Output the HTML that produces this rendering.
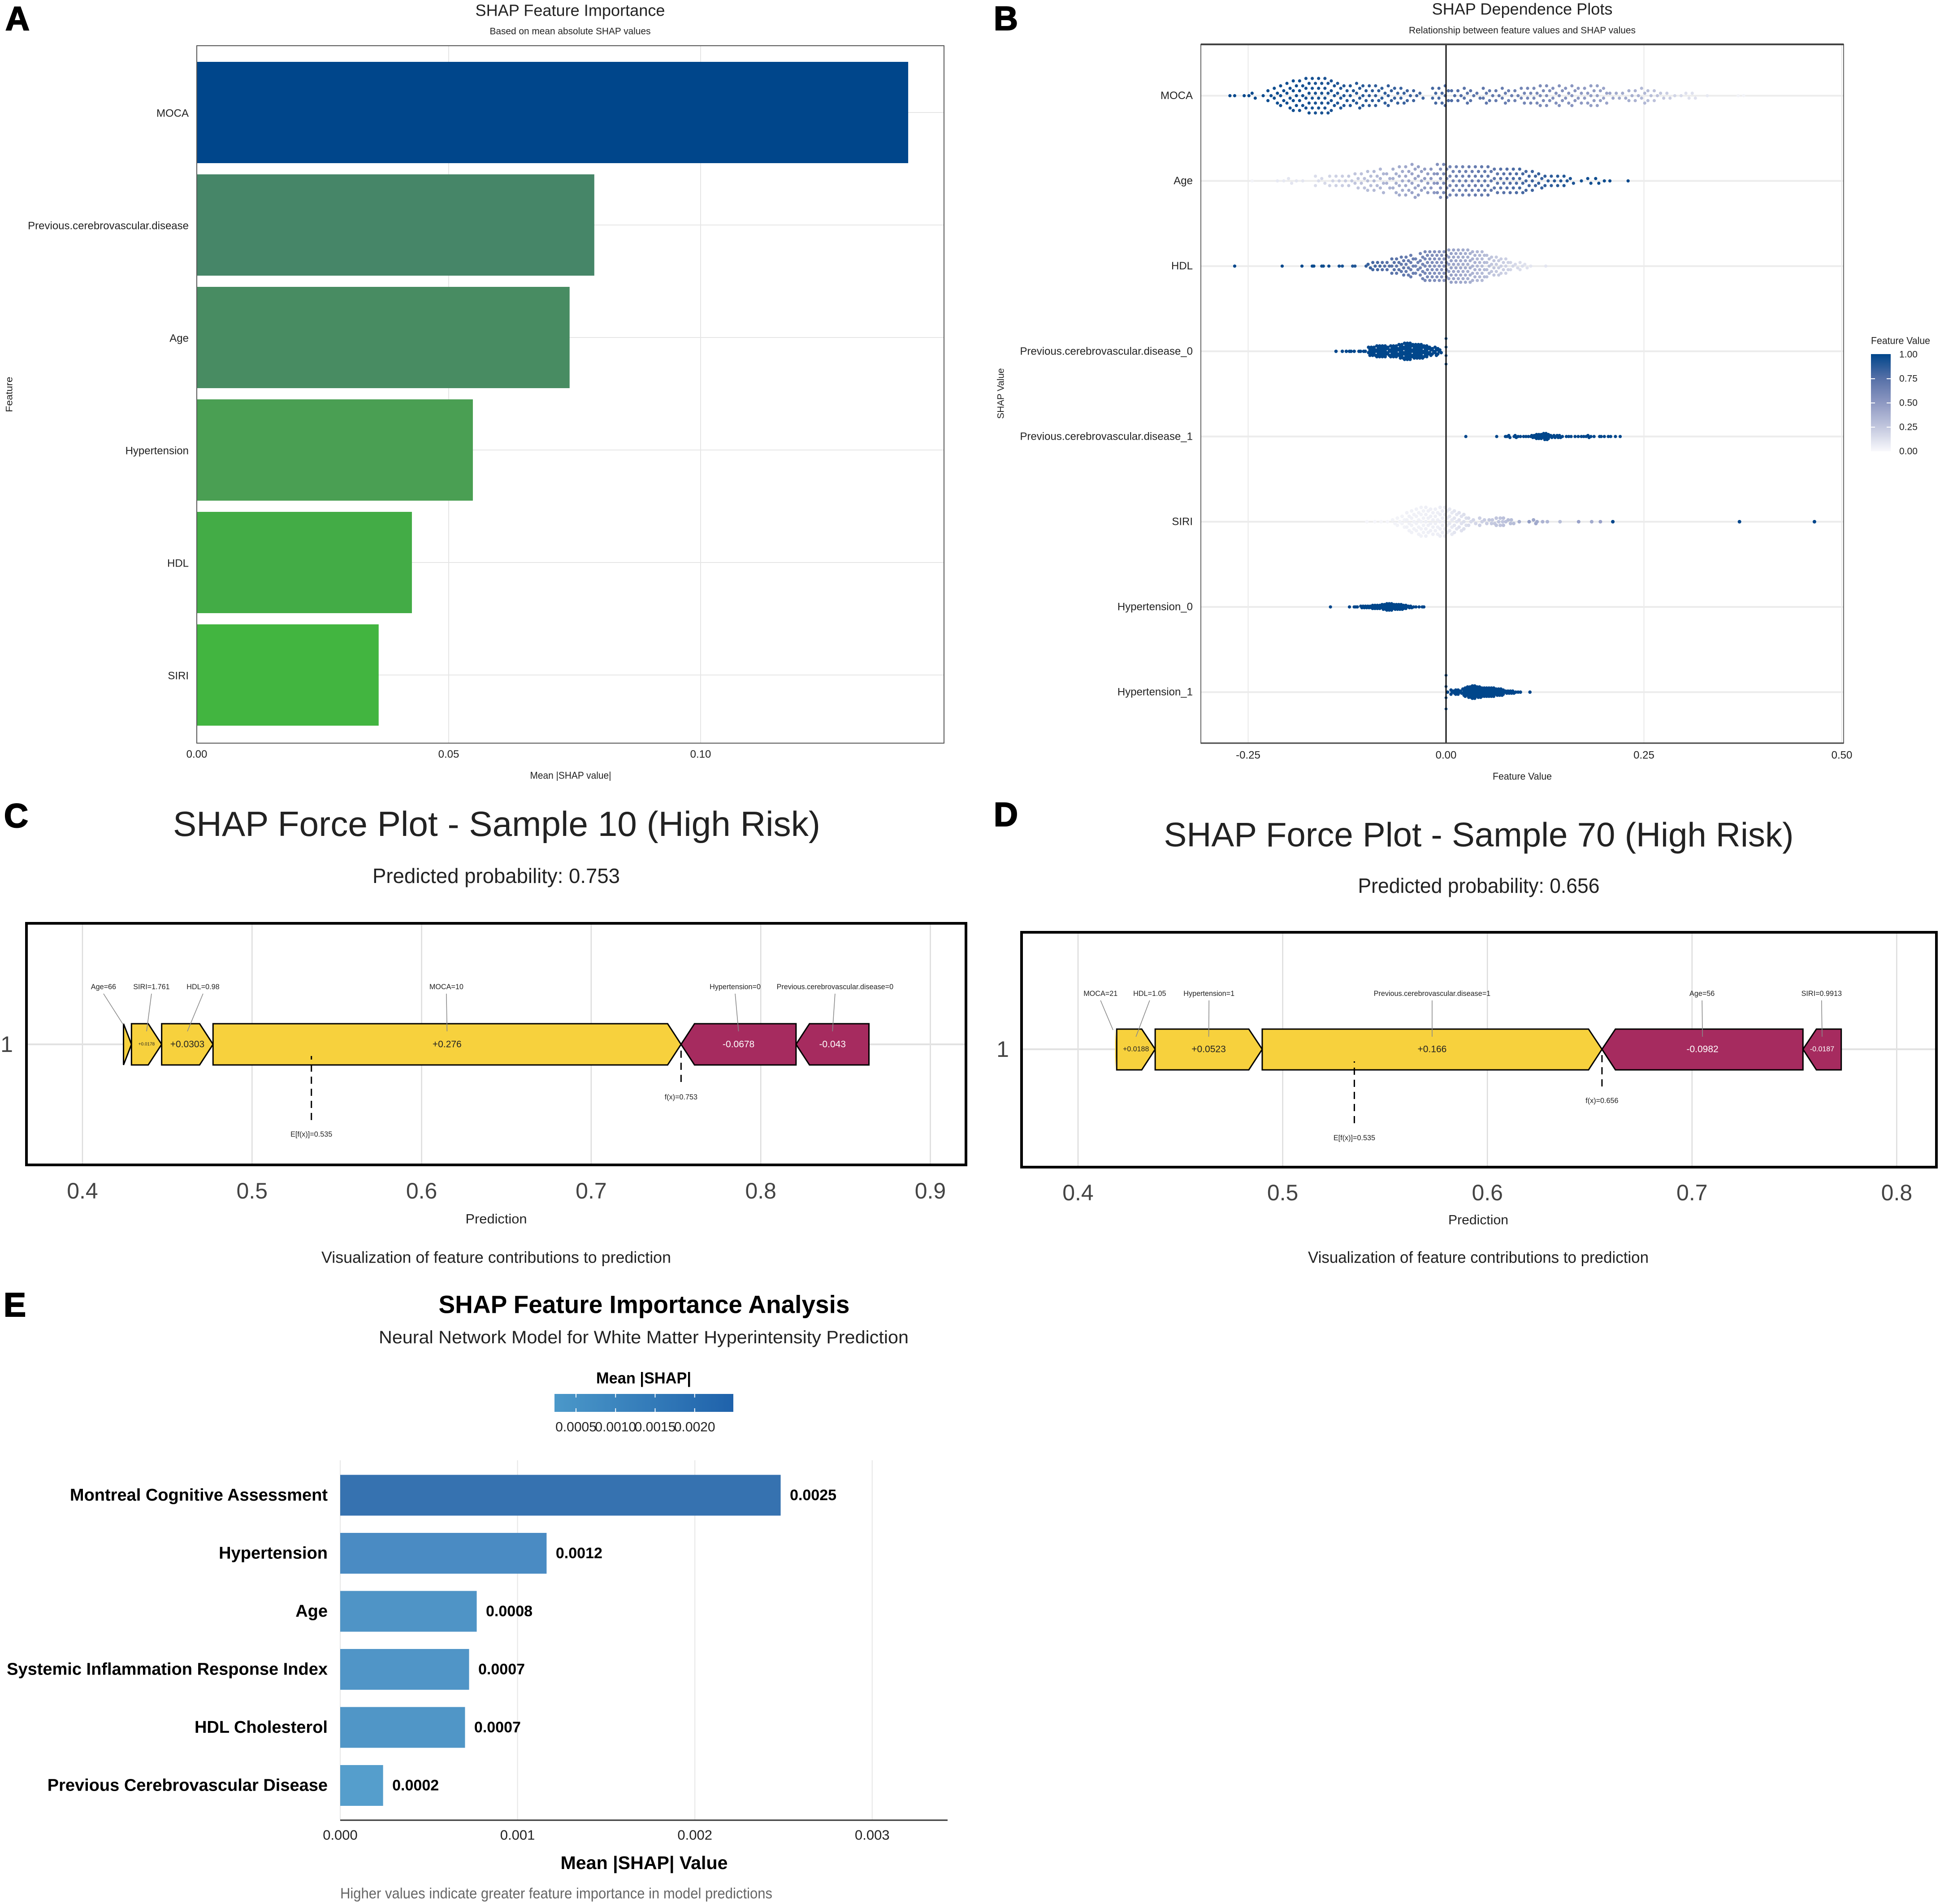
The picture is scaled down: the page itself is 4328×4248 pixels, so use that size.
<!DOCTYPE html>
<html lang="en">
<head>
<meta charset="utf-8">
<title>SHAP analysis figure</title>
<style>
html,body{margin:0;padding:0;background:#fff;}
svg{display:block;font-family:"Liberation Sans",Arial,sans-serif;}
text{dominant-baseline:central;}
</style>
</head>
<body>
<svg id="figure" xmlns="http://www.w3.org/2000/svg" width="4328" height="4248" viewBox="0 0 4328 4248">
<defs>
<linearGradient id="featureGrad" x1="0" y1="0" x2="0" y2="1">
<stop offset="0" stop-color="#00468b"/><stop offset=".25" stop-color="#5670a7"/><stop offset=".5" stop-color="#8d98c2"/><stop offset=".75" stop-color="#c2c7de"/><stop offset="1" stop-color="#f9f9fc"/>
</linearGradient>
<linearGradient id="shapGrad" x1="0" y1="0" x2="1" y2="0">
<stop offset="0" stop-color="#4b98c9"/><stop offset="1" stop-color="#1f62ab"/>
</linearGradient>
</defs>
<rect width="4328" height="4248" fill="#fff"/>

<text x="39" y="41" font-size="75" font-weight="700" text-anchor="middle" stroke="#000" stroke-width="2">A</text>
<text x="2244" y="41" font-size="75" font-weight="700" text-anchor="middle" stroke="#000" stroke-width="2">B</text>
<text x="36" y="1820" font-size="75" font-weight="700" text-anchor="middle" stroke="#000" stroke-width="2">C</text>
<text x="2244" y="1817" font-size="75" font-weight="700" text-anchor="middle" stroke="#000" stroke-width="2">D</text>
<text x="33" y="2911" font-size="75" font-weight="700" text-anchor="middle" stroke="#000" stroke-width="2">E</text>

<g id="panelA">
<text x="1272" y="23" font-size="36" fill="#222" text-anchor="middle" textLength="423" lengthAdjust="spacingAndGlyphs">SHAP Feature Importance</text>
<text x="1272" y="70" font-size="21" fill="#222" text-anchor="middle" textLength="359" lengthAdjust="spacingAndGlyphs">Based on mean absolute SHAP values</text>
<text x="1273" y="1730" font-size="22" fill="#222" text-anchor="middle" textLength="181" lengthAdjust="spacingAndGlyphs">Mean |SHAP value|</text>
<text x="21" y="880" font-size="21" fill="#222" text-anchor="middle" transform="rotate(-90 21 880)" textLength="79" lengthAdjust="spacingAndGlyphs">Feature</text>
</g>

<g id="panelB">
<text x="3396" y="20" font-size="36" fill="#222" text-anchor="middle" textLength="403" lengthAdjust="spacingAndGlyphs">SHAP Dependence Plots</text>
<text x="3396" y="68" font-size="21" fill="#222" text-anchor="middle" textLength="506" lengthAdjust="spacingAndGlyphs">Relationship between feature values and SHAP values</text>
<text x="3396" y="1732" font-size="22" fill="#222" text-anchor="middle" textLength="132" lengthAdjust="spacingAndGlyphs">Feature Value</text>
<text x="2233" y="878" font-size="21" fill="#222" text-anchor="middle" transform="rotate(-90 2233 878)" textLength="113" lengthAdjust="spacingAndGlyphs">SHAP Value</text>
<text x="4174" y="760" font-size="22" fill="#222" textLength="132" lengthAdjust="spacingAndGlyphs">Feature Value</text>
<rect x="4174" y="790" width="44" height="217" fill="url(#featureGrad)"/>
</g>

<g id="panelC">
<text x="1108" y="1838" font-size="78" fill="#222" text-anchor="middle" textLength="1444" lengthAdjust="spacingAndGlyphs">SHAP Force Plot - Sample 10 (High Risk)</text>
<text x="1107" y="1954" font-size="46" fill="#222" text-anchor="middle" textLength="552" lengthAdjust="spacingAndGlyphs">Predicted probability: 0.753</text>
<text x="1107" y="2720" font-size="30" fill="#222" text-anchor="middle" textLength="137" lengthAdjust="spacingAndGlyphs">Prediction</text>
<text x="1107" y="2805" font-size="36" fill="#222" text-anchor="middle" textLength="780" lengthAdjust="spacingAndGlyphs">Visualization of feature contributions to prediction</text>
</g>

<g id="panelD">
<text x="3299" y="1863" font-size="76" fill="#222" text-anchor="middle" textLength="1405" lengthAdjust="spacingAndGlyphs">SHAP Force Plot - Sample 70 (High Risk)</text>
<text x="3299" y="1976" font-size="46" fill="#222" text-anchor="middle" textLength="539" lengthAdjust="spacingAndGlyphs">Predicted probability: 0.656</text>
<text x="3298" y="2722" font-size="30" fill="#222" text-anchor="middle" textLength="134" lengthAdjust="spacingAndGlyphs">Prediction</text>
<text x="3298" y="2805" font-size="36" fill="#222" text-anchor="middle" textLength="760" lengthAdjust="spacingAndGlyphs">Visualization of feature contributions to prediction</text>
</g>

<g id="panelE">
<text x="1437" y="2910" font-size="56" font-weight="700" fill="#000" text-anchor="middle" textLength="917" lengthAdjust="spacingAndGlyphs">SHAP Feature Importance Analysis</text>
<text x="1436" y="2984" font-size="40" fill="#222" text-anchor="middle" textLength="1182" lengthAdjust="spacingAndGlyphs">Neural Network Model for White Matter Hyperintensity Prediction</text>
<text x="1436" y="3075" font-size="35" font-weight="700" fill="#000" text-anchor="middle" textLength="212" lengthAdjust="spacingAndGlyphs">Mean |SHAP|</text>
<rect x="1237" y="3110" width="399" height="40" fill="url(#shapGrad)"/>
<text x="1437" y="4156" font-size="41" font-weight="700" fill="#000" text-anchor="middle" textLength="373" lengthAdjust="spacingAndGlyphs">Mean |SHAP| Value</text>
<text x="759" y="4224" font-size="33" fill="#666" textLength="964" lengthAdjust="spacingAndGlyphs">Higher values indicate greater feature importance in model predictions</text>
</g>
</svg>

<script>
/* ---------- Panel A data ---------- */
const aCategories = ['MOCA','Previous.cerebrovascular.disease','Age','Hypertension','HDL','SIRI'];
const aValues = [0.1412,0.0789,0.0740,0.0548,0.0427,0.0361];
const aColors = ['#00468b','#468668','#488c62','#4a9f53','#43ac46','#42b540'];
const aTicks = [0,0.05,0.10];
const aTickLabels = ['0.00','0.05','0.10'];

/* ---------- Panel B data ---------- */
const bTicks = [-0.25,0,0.25,0.5];
const bTickLabels = ['-0.25','0.00','0.25','0.50'];
const bCategories = ['MOCA','Age','HDL','Previous.cerebrovascular.disease_0','Previous.cerebrovascular.disease_1','SIRI','Hypertension_0','Hypertension_1'];
const legendTicks = [1,0.75,0.5,0.25,0];
const legendLabels = ['1.00','0.75','0.50','0.25','0.00'];

const mocaShap = [-.273,-.267,-.255,-.249,-.243,-.231,-.223,-.215,-.207,-.199,-.191,-.183,-.175,-.167,-.159,-.151,-.143,-.135,-.127,-.119,-.111,-.103,-.095,-.087,-.079,-.071,-.063,-.055,-.047,-.039,-.031,-.015,-.007,.001,.009,.017,.025,.033,.041,.049,.057,.065,.073,.081,.089,.097,.105,.113,.121,.129,.137,.145,.153,.161,.169,.177,.185,.193,.201,.209,.217,.225,.233,.241,.249,.257,.265,.273,.281,.289,.297,.305,.313,.33,.369,.376];
const mocaCount = [1,1,1,1,2,1,3,4,5,6,7,7,8,8,8,8,7,6,5,5,6,5,5,5,4,5,4,4,3,3,2,4,4,5,3,3,4,3,2,4,3,3,4,3,3,4,4,4,5,5,4,5,4,5,4,4,5,5,4,2,2,2,3,3,4,3,3,2,2,1,1,2,2,1,1,1];
const mocaFeature = [.98,.98,.98,.97,.97,.97,.96,.96,.95,.95,.95,.94,.94,.93,.93,.92,.92,.91,.9,.9,.89,.88,.87,.86,.86,.85,.84,.83,.82,.82,.81,.8,.79,.78,.77,.76,.74,.73,.72,.71,.7,.68,.67,.65,.64,.62,.61,.6,.58,.57,.55,.54,.53,.52,.5,.49,.47,.46,.44,.43,.41,.4,.38,.36,.33,.3,.28,.25,.22,.18,.15,.12,.12,.08,.03,.03];

const ageShap = [-.245,-.213,-.205,-.197,-.189,-.181,-.163,-.155,-.145,-.137,-.129,-.121,-.113,-.105,-.097,-.089,-.081,-.073,-.065,-.057,-.049,-.041,-.033,-.025,-.017,-.009,-.001,.007,.015,.023,.031,.039,.047,.055,.063,.071,.079,.087,.095,.103,.111,.119,.127,.135,.143,.151,.159,.171,.181,.191,.2,.207,.23];
const ageCount = [1,1,1,2,1,1,3,2,3,3,3,3,4,4,5,5,6,4,6,7,7,8,7,6,6,8,8,7,7,7,7,7,7,7,6,6,6,6,6,5,5,4,3,3,3,3,2,1,2,2,1,1,1];
const ageFeature = [.03,.08,.08,.1,.1,.1,.14,.16,.18,.2,.22,.24,.26,.28,.3,.32,.34,.36,.38,.4,.42,.44,.46,.48,.5,.55,.58,.62,.64,.65,.66,.68,.69,.7,.72,.74,.76,.78,.8,.8,.82,.84,.86,.87,.88,.9,.92,.94,.95,.96,.97,.98,1];

const hdlShap = [-.267,-.207,-.182,-.169,-.167,-.157,-.155,-.148,-.135,-.131,-.118,-.115,-.101,-.097,-.091,-.085,-.079,-.073,-.067,-.061,-.055,-.049,-.043,-.037,-.031,-.025,-.019,-.013,-.007,-.001,.005,.011,.017,.023,.029,.035,.041,.047,.053,.059,.065,.071,.077,.083,.089,.095,.101,.107,.126];
const hdlCount = [1,1,1,1,1,1,1,1,1,1,1,1,1,2,3,3,3,3,5,5,6,6,7,5,8,9,9,9,9,9,10,10,10,10,10,9,9,9,7,6,6,5,5,3,2,3,2,1,1];
const hdlFeature = [1,.98,.98,.97,.97,.96,.96,.95,.93,.93,.9,.9,.85,.84,.8,.8,.76,.75,.74,.72,.7,.68,.66,.64,.62,.6,.58,.56,.54,.5,.46,.44,.42,.4,.38,.36,.34,.32,.3,.26,.24,.22,.2,.18,.16,.14,.12,.1,.1];

const prev0Shap = [-.139,-.131,-.126,-.122,-.12,-.116,-.11,-.108,-.104,-.102,-.097,-.0935,-.09,-.0865,-.083,-.0795,-.076,-.0725,-.069,-.0655,-.062,-.0585,-.055,-.0515,-.048,-.0445,-.041,-.0375,-.034,-.0305,-.027,-.0235,-.02,-.0165,-.013,-.0095,-.007];
const prev0Count = [1,1,1,1,1,1,1,1,1,1,4,4,4,5,5,5,5,4,5,5,5,6,6,7,7,7,6,6,6,6,5,5,4,3,4,3,2];
const prev0Ties = 4;

const prev1Shap = [.025,.064,.075,.077,.08,.086,.088,.091,.094,.098,.101,.104,.107,.109,.112,.115,.118,.121,.124,.127,.13,.133,.137,.141,.144,.147,.152,.155,.158,.163,.167,.171,.174,.177,.18,.183,.187,.194,.196,.2,.205,.208,.214,.22];
const prev1Count = [1,1,1,1,2,1,2,1,1,1,1,1,1,2,2,3,3,3,4,4,3,2,2,2,2,1,1,1,1,1,1,1,1,1,2,1,1,1,1,1,1,1,1,1];

const siriShap = [-.1,-.09,-.082,-.074,-.066,-.06,-.054,-.048,-.042,-.036,-.03,-.024,-.018,-.012,-.006,0,.006,.012,.018,.024,.03,.036,.044,.05,.056,.06,.065,.07,.074,.08,.084,.0925,.105,.112,.115,.122,.128,.144,.1675,.184,.195,.2107,.3707,.4654];
const siriCount = [1,1,1,1,2,3,4,6,7,8,9,9,8,8,9,9,8,7,6,5,3,2,3,2,2,2,3,3,3,2,2,1,1,2,1,1,1,1,1,1,1,1,1,1];
const siriFeature = [.02,.02,.02,.02,.03,.03,.03,.04,.04,.04,.04,.05,.05,.05,.06,.06,.08,.1,.12,.13,.15,.17,.2,.22,.24,.24,.26,.26,.28,.3,.3,.38,.48,.42,.4,.36,.34,.3,.45,.4,.45,1,1,1];

const hyp0Shap = [-.146,-.122,-.116,-.114,-.112,-.107,-.104,-.101,-.098,-.095,-.092,-.089,-.086,-.083,-.08,-.077,-.074,-.071,-.068,-.065,-.062,-.059,-.056,-.053,-.05,-.047,-.044,-.041,-.038,-.034,-.03,-.028];
const hyp0Count = [1,1,1,1,1,2,2,2,2,2,3,3,3,3,4,4,5,5,5,4,4,4,4,3,3,2,2,1,1,1,1,1];

const hyp1Shap = [.002,.007,.01,.013,.016,.019,.022,.025,.028,.031,.034,.037,.04,.043,.046,.049,.052,.055,.058,.061,.064,.067,.07,.073,.076,.079,.082,.085,.088,.091,.094,.106];
const hyp1Count = [1,3,2,3,3,2,4,5,6,6,7,7,6,6,5,5,5,5,5,5,4,4,4,3,2,2,2,2,1,1,1,1];
const hyp1Ties = 4;
const binaryFeature = 1;

/* ---------- Panel C data ---------- */
const cTicks = [0.4,0.5,0.6,0.7,0.8,0.9];
const cTickLabels = ['0.4','0.5','0.6','0.7','0.8','0.9'];
const cPosNames = ['Age=66','SIRI=1.761','HDL=0.98','MOCA=10'];
const cPosValues = [0.0047,0.0178,0.0303,0.276];
const cPosLabels = ['','+0.0178','+0.0303','+0.276'];
const cNegNames = ['Hypertension=0','Previous.cerebrovascular.disease=0'];
const cNegValues = [0.0678,0.043];
const cNegLabels = ['-0.0678','-0.043'];
const cNameAnchors = [0.4124,0.4407,0.4711,0.6146,0.7849,0.8438];
const cPrediction = 0.753;
const cBase = 0.535;

/* ---------- Panel D data ---------- */
const dTicks = [0.4,0.5,0.6,0.7,0.8];
const dTickLabels = ['0.4','0.5','0.6','0.7','0.8'];
const dPosNames = ['MOCA=21','HDL=1.05','Hypertension=1','Previous.cerebrovascular.disease=1'];
const dPosValues = [0.0008,0.0188,0.0523,0.166];
const dPosLabels = ['','+0.0188','+0.0523','+0.166'];
const dNegNames = ['Age=56','SIRI=0.9913'];
const dNegValues = [0.0982,0.0187];
const dNegLabels = ['-0.0982','-0.0187'];
const dNameAnchors = [0.4110,0.4350,0.4640,0.5730,0.7049,0.7633];
const dPrediction = 0.656;
const dBase = 0.535;

/* ---------- Panel E data ---------- */
const eCategories = ['Montreal Cognitive Assessment','Hypertension','Age','Systemic Inflammation Response Index','HDL Cholesterol','Previous Cerebrovascular Disease'];
const eValues = [0.00248,0.00116,0.000766,0.000723,0.0007,0.000238];
const eValueLabels = ['0.0025','0.0012','0.0008','0.0007','0.0007','0.0002'];
const eColors = ['#3672b0','#4a8bc3','#4f94c6','#5095c7','#5096c7','#559ecc'];
const eTicks = [0,0.001,0.002,0.003];
const eTickLabels = ['0.000','0.001','0.002','0.003'];
const eLegendTicks = [0.0005,0.001,0.0015,0.002];
const eLegendLabels = ['0.0005','0.0010','0.0015','0.0020'];

/* ---------- helpers ---------- */
const NS = 'http://www.w3.org/2000/svg';
function shape(parent, tag, attrs){
  const el = document.createElementNS(NS, tag);
  for (const k in attrs) el.setAttribute(k, attrs[k]);
  parent.appendChild(el);
  return el;
}
function label(parent, x, y, str, size, fill, anchor, weight){
  const el = shape(parent, 'text', {x:x, y:y, 'font-size':size, fill:fill, 'text-anchor':anchor||'middle', 'font-weight':weight||400});
  el.textContent = str;
  return el;
}
function line(parent, x1, y1, x2, y2, stroke, width){
  return shape(parent, 'line', {x1:x1, y1:y1, x2:x2, y2:y2, stroke:stroke, 'stroke-width':width});
}
const stops = [[0,[249,249,252]],[.25,[194,199,222]],[.5,[141,152,194]],[.75,[86,112,167]],[1,[0,70,139]]];
function featureColor(v){
  const t = Math.max(0, Math.min(1, v));
  for (let i = 1; i < stops.length; i++){
    if (t <= stops[i][0]){
      const a = stops[i-1], b = stops[i], f = (t-a[0])/(b[0]-a[0]);
      const m = a[1].map((c,k)=>Math.round(c+(b[1][k]-c)*f));
      return 'rgb('+m.join(',')+')';
    }
  }
  return 'rgb(0,70,139)';
}

/* ---------- Panel A ---------- */
(function(){
  const g = document.getElementById('panelA');
  const L = 439, R = 2106, T = 102, B = 1658;
  const xA = v => L + v*11240;
  const yA = i => 251 + i*251;
  const barH = 226;
  aTicks.forEach((t,i)=>{
    if (i > 0){
      const grid = line(g, xA(t), T, xA(t), B, '#e6e6e6', 2);
      
      
    }
    const tick = label(g, xA(t), 1683, aTickLabels[i], 24, '#222');
    
    
  });
  aCategories.forEach((c,i)=>{
    const grid = line(g, L, yA(i), R, yA(i), '#e6e6e6', 2);
    
    
  });
  aCategories.forEach((c,i)=>{
    const bar = shape(g, 'rect', {x:L, y:yA(i)-barH/2, width:xA(aValues[i])-L, height:barH, fill:aColors[i]});
    
    
    const t = label(g, 421, yA(i)+2, c, 24, '#222', 'end');
    
    
  });
  const frame = shape(g, 'rect', {x:L, y:T, width:R-L, height:B-T, fill:'none', stroke:'#555', 'stroke-width':2});
  
  
})();

/* ---------- Panel B ---------- */
(function(){
  const g = document.getElementById('panelB');
  const L = 2679, R = 4113, T = 99, B = 1658;
  const xB = v => 3226 + v*1766;
  const yB = i => 213.5 + i*190.1;
  bTicks.forEach((t,i)=>{
    const grid = line(g, xB(t), T, xB(t), B, '#e8e8e8', 2);
    
    
    const tick = label(g, xB(t), 1685, bTickLabels[i], 24, '#222');
    
    
  });
  bCategories.forEach((c,i)=>{
    const grid = line(g, L, yB(i), R, yB(i), '#ececec', 4);
    
    
    const t = label(g, 2661, yB(i), c, 24, '#222', 'end');
    
    
  });
  function swarm(row, shap, count, feature, step, dy, r){
    const cy = yB(row);
    shap.forEach((s,i)=>{
      const n = count[i];
      const v = feature === null ? binaryFeature : feature[i];
      for (let j = 0; j < n; j++){
        const off = n < 2 ? 0 : (j % 2 ? step/4 : -step/4);
        const dot = shape(g, 'circle', {cx:xB(s)+off, cy:cy+(j-(n-1)/2)*dy, r:r, fill:featureColor(v)});
        
        
      }
    });
  }
  function ties(row, n, dy, r){
    for (let j = 0; j < n; j++){
      const dot = shape(g, 'circle', {cx:xB(0), cy:yB(row)+(j-(n-1)/2)*dy, r:r, fill:featureColor(binaryFeature)});
      
      
    }
  }
  swarm(0, mocaShap, mocaCount, mocaFeature, 14, 11, 3.6);
  swarm(1, ageShap, ageCount, ageFeature, 14, 10.5, 3.6);
  swarm(2, hdlShap, hdlCount, hdlFeature, 10.6, 8, 3.6);
  swarm(3, prev0Shap, prev0Count, null, 6.2, 6, 3.8);
  ties(3, prev0Ties, 19, 3.2);
  swarm(4, prev1Shap, prev1Count, null, 5, 4.5, 3.6);
  swarm(5, siriShap, siriCount, siriFeature, 10.6, 8, 4);
  swarm(6, hyp0Shap, hyp0Count, null, 5.3, 3.6, 3.6);
  swarm(7, hyp1Shap, hyp1Count, null, 5.3, 4.6, 3.8);
  ties(7, hyp1Ties, 25, 3.2);
  const zero = line(g, xB(0), T, xB(0), B, '#111', 3);
  
  
  const frame = shape(g, 'rect', {x:L, y:T, width:R-L, height:B-T, fill:'none', stroke:'#666', 'stroke-width':2});
  
  
  const topEdge = line(g, L, T, R, T, '#444', 4);
  
  
  const botEdge = line(g, L, B, R, B, '#444', 3);
  
  
  const legY = v => 1007 - v*216;
  legendTicks.forEach((t,i)=>{
    if (t > 0 && t < 1){
      const a = line(g, 4174, legY(t), 4183, legY(t), '#fff', 2);
      
      
      const b = line(g, 4209, legY(t), 4218, legY(t), '#fff', 2);
      
      
    }
    const txt = label(g, 4237, legY(t), legendLabels[i], 21, '#222', 'start');
    
    
  });
})();

/* ---------- Panels C, D ---------- */
function drawForce(g, xF, box, ticks, tickLabels, posNames, posValues, posLabels, negNames, negValues, negLabels, anchors, pred, base, ys){
  const frameW = 6;
  ticks.forEach((t,i)=>{
    const grid = line(g, xF(t), box.T, xF(t), box.B, '#dcdcdc', 2.5);
    
    
    const tick = label(g, xF(t), ys.tick, tickLabels[i], 50, '#444');
    
    
  });
  const rowLine = line(g, box.L, ys.mid, box.R, ys.mid, '#e2e2e2', 4);
  
  
  const rowLabel = label(g, ys.oneX, ys.mid, '1', 50, '#444');
  
  

  const segs = [];
  let hi = pred;
  const posSpans = posValues.map(v=>v);
  for (let i = posSpans.length-1; i >= 0; i--){
    const lo = hi - posSpans[i];
    segs[i] = {a:lo, b:hi, pos:true, name:posNames[i], text:posLabels[i]};
    hi = lo;
  }
  let lo2 = pred;
  negValues.forEach((v,i)=>{
    segs.push({a:lo2, b:lo2+v, pos:false, name:negNames[i], text:negLabels[i]});
    lo2 += v;
  });
  const head = 30;
  segs.forEach((s,i)=>{
    const a = xF(s.a), b = xF(s.b), w = b-a;
    let pts;
    if (s.pos){
      pts = w < head
        ? [[a,ys.top],[b,ys.mid],[a,ys.bot]]
        : [[a,ys.top],[b-head,ys.top],[b,ys.mid],[b-head,ys.bot],[a,ys.bot]];
    } else {
      pts = [[a,ys.mid],[a+head,ys.top],[b,ys.top],[b,ys.bot],[a+head,ys.bot]];
    }
    const poly = shape(g, 'polygon', {points:pts.map(p=>p.join(',')).join(' '), fill:s.pos?'#f7d13d':'#a62b5f', stroke:w < 10 ? 'none' : '#000', 'stroke-width':3, 'stroke-linejoin':'miter'});
    
    
  });
  segs.forEach((s,i)=>{
    const a = xF(s.a), b = xF(s.b), w = b-a;
    const tx = xF(anchors[i]);
    const cx = (a+b)/2;
    const y0 = ys.nameY + 15, y1 = w < 40 ? ys.top + 2 : ys.top + 17;
    const ex = w < 40 ? tx + (cx-tx)*(y1-y0)/(ys.top+17-y0) : cx;
    const lead = line(g, tx, y0, ex, y1, '#8a8a8a', 1.6);
    
    
    const nm = label(g, tx, ys.nameY, s.name, 16.2, '#222');
    
    
    if (s.text){
      const size = w < 70 ? 10 : (w < 100 ? 16 : 21);
      const val = label(g, cx, ys.mid, s.text, size, s.pos?'#222':'#fff');
      
      
    }
  });
  const bx = xF(base);
  const baseLine = line(g, bx, ys.baseBottom, bx, ys.baseTop, '#000', 3);
  baseLine.setAttribute('stroke-dasharray', '16 11');
  
  
  const baseText = label(g, bx, ys.baseText, 'E[f(x)]='+base.toFixed(3), 16.2, '#222');
  
  
  const fx = xF(pred);
  const predLine = line(g, fx, ys.predBottom, fx, ys.mid, '#000', 3);
  predLine.setAttribute('stroke-dasharray', '16 11');
  
  
  const predText = label(g, fx, ys.predText, 'f(x)='+pred.toFixed(3), 16.2, '#222');
  
  
  const frame = shape(g, 'rect', {x:box.L, y:box.T, width:box.R-box.L, height:box.B-box.T, fill:'none', stroke:'#000', 'stroke-width':frameW});
  
  
}
drawForce(document.getElementById('panelC'), v => 184 + (v-0.4)*3783, {L:59,R:2155,T:2060,B:2599},
  cTicks, cTickLabels, cPosNames, cPosValues, cPosLabels, cNegNames, cNegValues, cNegLabels, cNameAnchors, cPrediction, cBase,
  {mid:2330, top:2284, bot:2376, tick:2657, oneX:15, nameY:2202, baseTop:2356, baseBottom:2499, baseText:2531, predBottom:2414, predText:2448});
drawForce(document.getElementById('panelD'), v => 2405 + (v-0.4)*4566, {L:2279,R:4320,T:2080,B:2604},
  dTicks, dTickLabels, dPosNames, dPosValues, dPosLabels, dNegNames, dNegValues, dNegLabels, dNameAnchors, dPrediction, dBase,
  {mid:2341, top:2296, bot:2387, tick:2661, oneX:2237, nameY:2217, baseTop:2368, baseBottom:2506, baseText:2539, predBottom:2424, predText:2456});

/* ---------- Panel E ---------- */
(function(){
  const g = document.getElementById('panelE');
  const xE = v => 759 + v*395600;
  const yE = i => 3336 + i*129.5;
  const barH = 91;
  eTicks.forEach((t,i)=>{
    const grid = line(g, xE(t), 3258, xE(t), 4061, '#e6e6e6', 2);
    
    
    const tick = label(g, xE(t), 4094, eTickLabels[i], 31, '#222');
    
    
  });
  eCategories.forEach((c,i)=>{
    const bar = shape(g, 'rect', {x:xE(0), y:yE(i)-barH/2, width:xE(eValues[i])-xE(0)+1.5, height:barH, fill:eColors[i]});
    
    
    const t = label(g, 731, yE(i), c, 38, '#000', 'end', 700);
    
    
    const val = label(g, xE(eValues[i])+22, yE(i), eValueLabels[i], 34, '#000', 'start', 700);
    
    
  });
  const axis = line(g, 759, 4061, 2114, 4061, '#333', 3);
  
  
  const legX = v => 1285 + (v-0.0005)*176500;
  eLegendTicks.forEach((t,i)=>{
    const tkTop = line(g, legX(t), 3110, legX(t), 3118, '#fff', 2);
    
    
    const tkBot = line(g, legX(t), 3142, legX(t), 3150, '#fff', 2);
    
    
    const lb = label(g, legX(t), 3184, eLegendLabels[i], 30, '#222');
    
    
  });
})();
</script>
</body>
</html>
